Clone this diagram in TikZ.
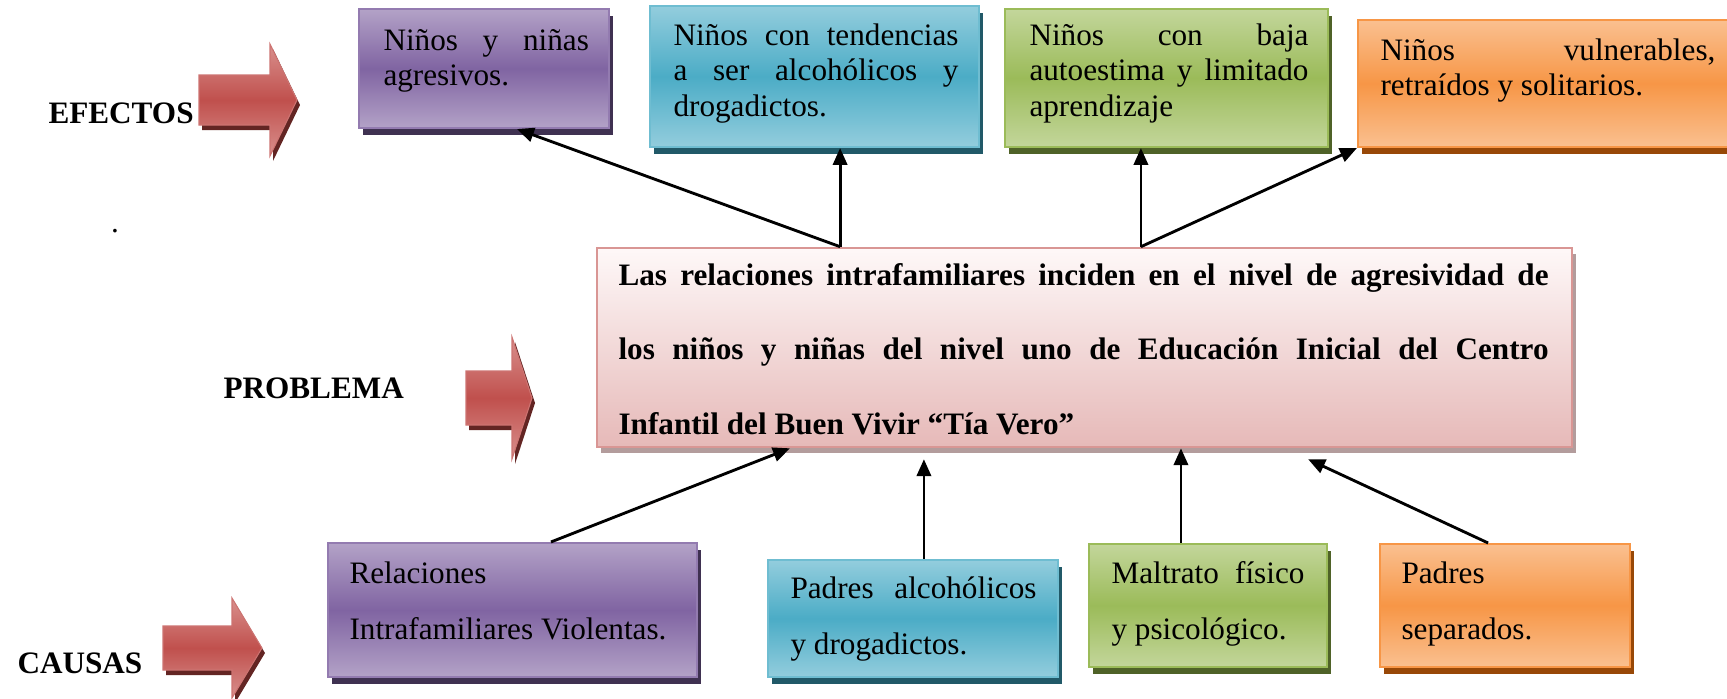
\documentclass[tikz,border=0pt]{standalone}
\usepackage{fontspec}
\setmainfont{Liberation Serif}
\usetikzlibrary{arrows.meta,fit,shadows}
\definecolor{morado}{HTML}{8064A2}
\definecolor{moradoclaro}{HTML}{B3A2C7}
\definecolor{moradosombra}{HTML}{3F3151}
\definecolor{celeste}{HTML}{4BACC6}
\definecolor{celesteclaro}{HTML}{93CDDD}
\definecolor{celestesombra}{HTML}{215968}
\definecolor{verde}{HTML}{9BBB59}
\definecolor{verdeclaro}{HTML}{C3D69B}
\definecolor{verdesombra}{HTML}{4F6228}
\definecolor{naranja}{HTML}{F79646}
\definecolor{naranjaclaro}{HTML}{FAC090}
\definecolor{naranjasombra}{HTML}{984807}
\definecolor{rosa}{HTML}{E6B9B8}
\definecolor{rosaclaro}{HTML}{FEF8F8}
\definecolor{rosaborde}{HTML}{D99694}
\definecolor{rosasombra}{HTML}{B39C9C}
\definecolor{rojo}{HTML}{C0504D}
\definecolor{rojoclaro}{HTML}{D9908D}
\definecolor{rojosombra}{HTML}{632523}
\tolerance=10000
\hyphenpenalty=10000
\tikzset{
  caja/.style={inner sep=0pt, line width=0.8pt},
  cajamorada/.style={caja, draw=morado!85!white, top color=moradoclaro, bottom color=moradoclaro, middle color=morado,
    drop shadow={shadow xshift=1.5pt, shadow yshift=-2.5pt, fill=moradosombra, opacity=1}},
  cajaceleste/.style={caja, draw=celeste!80!white, top color=celesteclaro, bottom color=celesteclaro, middle color=celeste,
    drop shadow={shadow xshift=1.5pt, shadow yshift=-2.5pt, fill=celestesombra, opacity=1}},
  cajaverde/.style={caja, draw=verde, top color=verdeclaro, bottom color=verdeclaro, middle color=verde,
    drop shadow={shadow xshift=1.5pt, shadow yshift=-2.5pt, fill=verdesombra, opacity=1}},
  cajanaranja/.style={caja, draw=naranja, top color=naranjaclaro, bottom color=naranjaclaro, middle color=naranja,
    drop shadow={shadow xshift=1.5pt, shadow yshift=-2.5pt, fill=naranjasombra, opacity=1}},
  cajarosa/.style={caja, line width=1pt, draw=rosaborde, top color=rosaclaro, bottom color=rosa,
    drop shadow={shadow xshift=1.5pt, shadow yshift=-2.2pt, fill=rosasombra, opacity=1}},
  textoefecto/.style={anchor=base west, inner sep=0pt, align=justify, font=\fontsize{12}{13.8}\selectfont},
  textocausa/.style={anchor=base west, inner sep=0pt, align=justify, font=\fontsize{12}{21.6}\selectfont},
  textoproblema/.style={anchor=base west, inner sep=0pt, align=justify, font=\fontsize{12}{28.8}\selectfont\bfseries},
  etiqueta/.style={anchor=base west, inner sep=0pt, font=\fontsize{12}{14}\selectfont\bfseries},
  flecha/.style={line width=1.1pt, -{Triangle[length=6.5pt,width=5.5pt]}}
}

\begin{document}
\begin{tikzpicture}[x=0.3846pt, y=-0.3846pt]
    \useasboundingbox (0,0) rectangle (1727,698);
    % Flechas rojas (inicio, cabeza, punta, centro, medio cuerpo, media cabeza)
    \foreach \xa/\xb/\xc/\yc/\bh/\hh in {199/270/297/100/25/56, 466/512/532/398/27/61, 163/232/262/648/22/50} {
        \fill[rojosombra, shift={(3,5)}] (\xa,\yc-\bh) -- (\xb,\yc-\bh) -- (\xb,\yc-\hh) -- (\xc,\yc)
            -- (\xb,\yc+\hh) -- (\xb,\yc+\bh) -- (\xa,\yc+\bh) -- cycle;
        \path[top color=rojoclaro, bottom color=rojoclaro, middle color=rojo, draw=rojo!80!white, line width=0.4pt]
            (\xa,\yc-\bh) -- (\xb,\yc-\bh) -- (\xb,\yc-\hh) -- (\xc,\yc)
            -- (\xb,\yc+\hh) -- (\xb,\yc+\bh) -- (\xa,\yc+\bh) -- cycle;
    }
    % Etiquetas
    \node[etiqueta] (efectos) at (48,123) {EFECTOS};
    \node[etiqueta] (problema) at (223,398) {PROBLEMA};
    \node[etiqueta] (causas) at (17,673) {CAUSAS};
    \node[anchor=base, inner sep=0pt, font=\fontsize{12}{14}\selectfont] (punto) at (115,232) {.};
    % Efectos
    \node[cajamorada, fit={(359,9) (609,128)}] (ef1) {};
    \node[cajaceleste, fit={(650,6) (979,147)}] (ef2) {};
    \node[cajaverde, fit={(1005,9) (1328,147)}] (ef3) {};
    \node[cajanaranja, fit={(1358,20) (1745,147)}] (ef4) {};
    \node[textoefecto, text width=79pt] (tef1) at (383,50) {Niños y niñas\linebreak agresivos.};
    \node[textoefecto, text width=109.6pt] (tef2) at (673,45) {Niños con tendencias\linebreak a ser alcohólicos y\linebreak drogadictos.};
    \node[textoefecto, text width=107.3pt] (tef3) at (1029,45) {Niños con baja\linebreak autoestima y limitado\linebreak aprendizaje};
    \node[textoefecto, text width=128.8pt] (tef4) at (1380,60) {Niños vulnerables,\linebreak retraídos y solitarios.};
    % Problema
    \node[cajarosa, fit={(597,248) (1572,447)}] (prob) {};
    \node[textoproblema, text width=357.7pt] (tprob) at (618,285) {Las relaciones intrafamiliares inciden en el nivel de agresividad de\linebreak los niños y niñas del nivel uno de Educación Inicial del Centro\linebreak Infantil del Buen Vivir “Tía Vero”};
    % Causas
    \node[cajamorada, fit={(328,543) (697,677)}] (ca1) {};
    \node[cajaceleste, fit={(768,560) (1058,677)}] (ca2) {};
    \node[cajaverde, fit={(1089,544) (1327,667)}] (ca3) {};
    \node[cajanaranja, fit={(1380,544) (1630,667)}] (ca4) {};
    \node[textocausa, text width=135pt] (tca1) at (349,583) {Relaciones\\Intrafamiliares Violentas.};
    \node[textocausa, text width=94.6pt] (tca2) at (790,598) {Padres alcohólicos\linebreak y drogadictos.};
    \node[textocausa, text width=74.2pt] (tca3) at (1111,583) {Maltrato físico\linebreak y psicológico.};
    \node[textocausa, text width=100pt] (tca4) at (1401,583) {Padres\\separados.};
    % Flechas del problema a los efectos
    \draw[flecha] ([xshift=-94pt]prob.north) -- ([xshift=12.7pt]ef1.south);
    \draw[flecha] ([xshift=-94pt]prob.north) -- ([xshift=-94pt]prob.north |- ef2.south);
    \draw[flecha] ([xshift=21.7pt]prob.north) -- ([xshift=21.7pt]prob.north |- ef3.south);
    \draw[flecha] ([xshift=21.7pt]prob.north) -- (ef4.south west);
    % Flechas de las causas al problema
    \draw[flecha] ([xshift=14.8pt]ca1.north) -- ([xshift=-113.3pt]prob.south);
    \draw[flecha] ([xshift=4.2pt]ca2.north) -- ([xshift=4.2pt, yshift=-4.2pt]ca2.north |- prob.south);
    \draw[flecha] ([xshift=-10.4pt]ca3.north) -- ([xshift=-10.4pt]ca3.north |- prob.south);
    \draw[flecha] ([xshift=-6.5pt]ca4.north) -- ([xshift=86pt, yshift=-4.2pt]prob.south);
\end{tikzpicture}
\end{document}
